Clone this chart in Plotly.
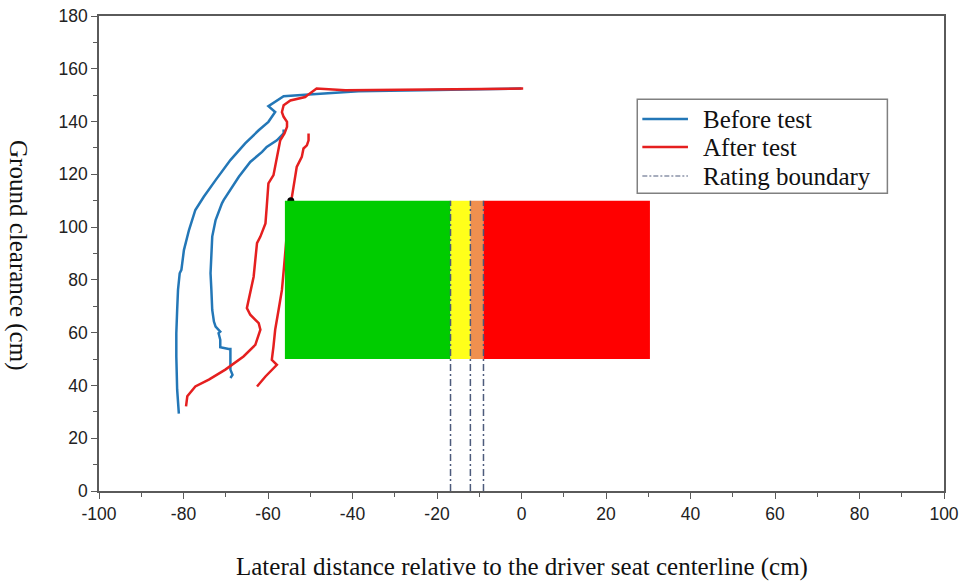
import plotly.graph_objects as go

# Seat-frame contour traces (lateral distance cm, ground clearance cm)
before_outer_x = [-81.1, -81.3, -81.5, -81.7, -81.7, -81.5, -81.3, -80.9, -80.5, -79.9, -78.7, -77.2,
                  -75.2, -72.4, -68.9, -65.4, -62.2, -59.9, -58.3, -59.9, -56.3, -51.2, -38.6, -20.0, 0.0]
before_outer_y = [29.3, 33.4, 38.4, 51.0, 59.8, 68.6, 76.2, 82.5, 83.8, 91.3, 98.9, 106.5,
                  111.5, 117.8, 125.4, 131.7, 136.7, 139.9, 143.6, 145.8, 149.6, 150.2, 151.5, 152.0, 152.5]

before_inner_x = [-68.9, -68.4, -68.9, -68.9, -69.3, -71.3, -71.3, -71.7, -71.3, -72.4, -72.8, -73.2,
                  -73.4, -73.6, -73.2, -72.4, -70.9, -70.5, -66.9, -64.2, -61.4, -60.3, -57.9, -56.3, -56.3]
before_inner_y = [42.8, 44.0, 46.0, 53.8, 53.8, 54.5, 57.3, 59.8, 60.4, 62.3, 64.2, 68.6,
                  76.2, 82.5, 96.4, 102.7, 109.0, 110.2, 119.1, 124.7, 128.5, 130.4, 132.9, 135.5, 137.0]

after_outer_x = [-79.4, -79.1, -77.2, -74.0, -70.1, -65.8, -63.0, -61.8, -62.2, -64.2, -65.0, -64.6,
                 -64.2, -63.4, -63.0, -62.6, -61.8, -60.6, -60.3, -59.9, -59.9, -58.7, -57.9, -57.1,
                 -56.1, -55.5, -55.5, -56.3, -56.7, -56.3, -54.7, -52.8, -51.2, -50.4, -48.5, -41.7,
                 -30.7, 0.4]
after_outer_y = [32.1, 35.9, 39.6, 42.2, 46.0, 51.0, 55.4, 61.1, 63.6, 66.8, 69.3, 72.4,
                 76.2, 81.2, 87.6, 93.9, 96.4, 101.4, 107.7, 114.0, 116.6, 119.7, 126.6, 132.9,
                 135.5, 138.0, 139.9, 141.8, 143.6, 146.2, 148.0, 148.7, 149.3, 150.3, 152.5, 151.9,
                 152.1, 152.5]

after_inner_x = [-62.6, -60.6, -57.9, -59.1, -58.7, -58.3, -57.5, -56.7, -56.2, -55.4, -54.6,
                 -54.4, -53.7, -53.2, -52.0, -51.6, -50.8, -50.4, -50.4]
after_inner_y = [39.6, 43.4, 47.8, 49.7, 54.8, 61.1, 68.6, 76.2, 85.0, 100.0, 110.0,
                 110.9, 117.8, 122.8, 126.6, 129.8, 131.0, 132.9, 135.5]

# Rating zones: boundaries along x, common vertical extent
zone_edges = [-56.0, -16.8, -12.1, -9.0, 30.4]
zone_colors = ["#00cc00", "#ffff1a", "#f0904f", "#ff0000"]
zone_bottom, zone_top = 50, 110
boundary_x = [-16.8, -12.1, -9.0]
boundary_top = 110

x_ticks = list(range(-100, 101, 20))
y_ticks = list(range(0, 181, 20))

legend_names = ["Before test", "After test", "Rating boundary"]

BLUE = "#2377b7"
RED = "#e51f1f"
BOUND = "#4d5b7c"
SERIF = "Liberation Serif, Times New Roman, serif"
TITLE_FONT = dict(family=SERIF, size=25, color="#111111")

fig = go.Figure()

fig.add_trace(go.Scatter(x=before_outer_x, y=before_outer_y, mode="lines",
                         line=dict(color=BLUE, width=2.5), name=legend_names[0]))
fig.add_trace(go.Scatter(x=before_inner_x, y=before_inner_y, mode="lines",
                         line=dict(color=BLUE, width=2.5), name=legend_names[0]))
fig.add_trace(go.Scatter(x=after_outer_x, y=after_outer_y, mode="lines",
                         line=dict(color=RED, width=2.5), name=legend_names[1]))
fig.add_trace(go.Scatter(x=after_inner_x, y=after_inner_y, mode="lines",
                         line=dict(color=RED, width=2.5), name=legend_names[1]))
# end point marker of the inner red trace
fig.add_trace(go.Scatter(x=[after_inner_x[10]], y=[after_inner_y[10]], mode="markers",
                         marker=dict(color="black", size=7)))

# filled rating zones
for i, c in enumerate(zone_colors):
    x0, x1 = zone_edges[i], zone_edges[i + 1]
    fig.add_trace(go.Scatter(x=[x0, x1, x1, x0, x0],
                             y=[zone_bottom, zone_bottom, zone_top, zone_top, zone_bottom],
                             mode="lines", fill="toself", fillcolor=c,
                             line=dict(width=0, color=c), hoverinfo="skip"))

# boundary lines
bx, by = [], []
for b in boundary_x:
    bx += [b, b, None]
    by += [0, boundary_top, None]
fig.add_trace(go.Scatter(x=bx, y=by, mode="lines", name=legend_names[2],
                         line=dict(color=BOUND, width=1.5, dash="7px,3px,2px,3px")))

axis_common = dict(
    showgrid=False, zeroline=False, showline=True, linecolor="#5a5a5a", linewidth=1.5,
    mirror=True, ticks="outside", ticklen=6, tickwidth=1.2, tickcolor="#5a5a5a",
    tickfont=dict(family="Liberation Sans, Arial", size=17.5, color="#222222"),
    minor=dict(ticks="outside", ticklen=4, tickwidth=1, tickcolor="#5a5a5a"),
    automargin=False,
)

fig.update_xaxes(range=[-100, 100], tickvals=x_ticks, ticktext=[str(v) for v in x_ticks],
                 **axis_common)
fig.update_xaxes(minor_dtick=10)
fig.update_yaxes(range=[0, 180], tickvals=y_ticks, ticktext=[str(v) for v in y_ticks],
                 **axis_common)
fig.update_yaxes(minor_dtick=10)

# axis titles
fig.add_annotation(text="Lateral distance relative to the driver seat centerline (cm)",
                   xref="paper", yref="paper", x=0.501, y=-0.159,
                   xanchor="center", yanchor="middle", showarrow=False, font=TITLE_FONT)
fig.add_annotation(text="Ground clearance (cm)", xref="paper", yref="paper",
                   x=-0.096, y=0.497, xanchor="center", yanchor="middle", textangle=90,
                   showarrow=False, font=TITLE_FONT)

# legend box
fig.add_shape(type="rect", xref="paper", yref="paper", x0=0.637, x1=0.933, y0=0.627, y1=0.825,
              line=dict(color="#808080", width=1.5), fillcolor="white", layer="above")
legend_styles = [dict(color=BLUE, width=2.5), dict(color=RED, width=2.5),
                 dict(color="#8a93a8", width=1.5, dash="5px,2px,2px,2px")]
row_y = [0.783, 0.724, 0.663]
for name, style, yy in zip(legend_names, legend_styles, row_y):
    fig.add_shape(type="line", xref="paper", yref="paper", x0=0.643, x1=0.697, y0=yy, y1=yy,
                  line=style, layer="above")
    fig.add_annotation(text=name, xref="paper", yref="paper", x=0.713, y=yy,
                       xanchor="left", yanchor="middle", showarrow=False,
                       font=dict(family=SERIF, size=25, color="#111111"))

fig.update_layout(
    width=966, height=581,
    margin=dict(l=99, r=22, t=16, b=90),
    plot_bgcolor="white", paper_bgcolor="white",
    showlegend=False,
)

fig.write_html("out.html")
